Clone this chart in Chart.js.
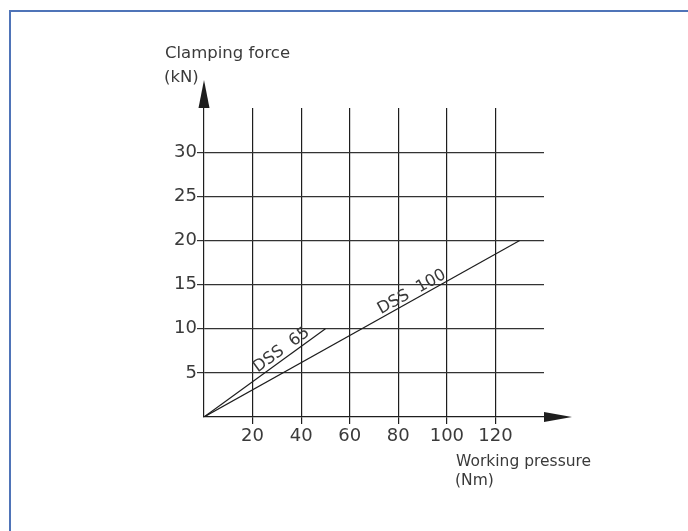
<!DOCTYPE html>
<html>
<head>
<meta charset="utf-8">
<script src="https://cdn.jsdelivr.net/npm/chart.js@4"></script>
<style>
  html, body { margin: 0; padding: 0; background: #fff; }
  #wrap { position: relative; width: 688px; height: 531px; }
  #frame {
    position: absolute; left: 9px; top: 10px; right: 0; bottom: 0;
    border-left: 2px solid #4f74b8; border-top: 2px solid #4f74b8;
    pointer-events: none;
  }
</style>
</head>
<body>
<div id="wrap">
  <canvas id="chart" width="688" height="531"></canvas>
  <div id="frame"></div>
</div>
<script>
// ── clamping force vs working pressure ──────────────────────────────

const xMax = 140, yMax = 35;
const xTicks = [20, 40, 60, 80, 100, 120];
const yTicks = [5, 10, 15, 20, 25, 30];

const dss65Pressure = [0, 50];
const dss65Force = [0, 10];
const dss100Pressure = [0, 130];
const dss100Force = [0, 20];

const xTitle = ["Working pressure", "(Nm)"];
const yTitle = ["Clamping force", "(kN)"];
const seriesNames = ["DSS  65", "DSS  100"];

const FONT = "'DejaVu Sans', sans-serif";
const INK = "#1e1e1e", TXT = "#3a3a3a";

const toPoints = (xs, ys) => xs.map((v, i) => ({ x: v, y: ys[i] }));

const decor = {
  id: "decor",
  afterDraw(chart) {
    const { ctx, scales: { x, y } } = chart;
    const x0 = x.getPixelForValue(0), y0 = y.getPixelForValue(0);
    const xEnd = x.getPixelForValue(xMax), yTop = y.getPixelForValue(yMax);
    ctx.save();

    // axis arrows
    ctx.fillStyle = INK;
    ctx.beginPath();
    ctx.moveTo(x0, yTop - 28);
    ctx.lineTo(x0 - 5.5, yTop);
    ctx.lineTo(x0 + 5.5, yTop);
    ctx.closePath();
    ctx.fill();
    ctx.beginPath();
    ctx.moveTo(xEnd + 28, y0);
    ctx.lineTo(xEnd, y0 - 5);
    ctx.lineTo(xEnd, y0 + 5);
    ctx.closePath();
    ctx.fill();

    // axis titles
    ctx.fillStyle = TXT;
    ctx.textAlign = "left";
    ctx.textBaseline = "alphabetic";
    ctx.font = "16.5px " + FONT;
    ctx.fillText(yTitle[0], x0 - 39, yTop - 50);
    ctx.fillText(yTitle[1], x0 - 40, yTop - 26);
    ctx.font = "15.5px " + FONT;
    ctx.fillText(xTitle[0], x0 + 252, y0 + 49);
    ctx.fillText(xTitle[1], x0 + 251, y0 + 68);

    // labels along the lines
    const place = [[0.68, 8.5], [0.67, 7.5]];
    chart.data.datasets.forEach((ds, i) => {
      const pts = chart.getDatasetMeta(i).data;
      const a = pts[0], b = pts[1];
      const [t, off] = place[i];
      const ang = Math.atan2(b.y - a.y, b.x - a.x);
      ctx.save();
      ctx.translate(a.x + (b.x - a.x) * t, a.y + (b.y - a.y) * t);
      ctx.rotate(ang);
      ctx.textAlign = "center";
      ctx.textBaseline = "middle";
      ctx.font = "16.5px " + FONT;
      ctx.fillText(seriesNames[i], 0, -off);
      ctx.restore();
    });
    ctx.restore();
  },
};

const hidden = v => v === 0 || v === xMax || v === yMax;

new Chart(document.getElementById("chart"), {
  type: "line",
  data: {
    datasets: [
      { label: seriesNames[0], data: toPoints(dss65Pressure, dss65Force) },
      { label: seriesNames[1], data: toPoints(dss100Pressure, dss100Force) },
    ].map(d => ({ ...d, borderColor: INK, borderWidth: 1.2, pointRadius: 0, tension: 0, fill: false })),
  },
  options: {
    responsive: false,
    animation: false,
    layout: { padding: { top: 108, right: 144, left: 0, bottom: 0 } },
    plugins: { legend: { display: false }, tooltip: { enabled: false } },
    scales: {
      x: {
        type: "linear",
        min: 0, max: xMax,
        afterFit: s => { s.height = 114; },
        afterBuildTicks: s => { s.ticks = [0, ...xTicks, xMax].map(v => ({ value: v })); },
        ticks: {
          color: TXT, font: { family: FONT, size: 18 }, padding: 2, maxRotation: 0,
          callback: v => (hidden(v) ? "" : v),
        },
        grid: {
          color: c => (hidden(c.tick.value) ? "rgba(0,0,0,0)" : INK),
          lineWidth: 1.2, tickLength: 7,
        },
        border: { color: INK, width: 1.2 },
      },
      y: {
        type: "linear",
        min: 0, max: yMax,
        afterFit: s => { s.width = 204; },
        afterBuildTicks: s => { s.ticks = [0, ...yTicks, yMax].map(v => ({ value: v })); },
        ticks: {
          color: TXT, font: { family: FONT, size: 18 }, padding: 0,
          callback: v => (hidden(v) ? "" : v),
        },
        grid: {
          color: c => (hidden(c.tick.value) ? "rgba(0,0,0,0)" : "#333"),
          lineWidth: 1.2, tickLength: 7,
        },
        border: { color: INK, width: 1.2 },
      },
    },
  },
  plugins: [decor],
});
</script>
</body>
</html>
